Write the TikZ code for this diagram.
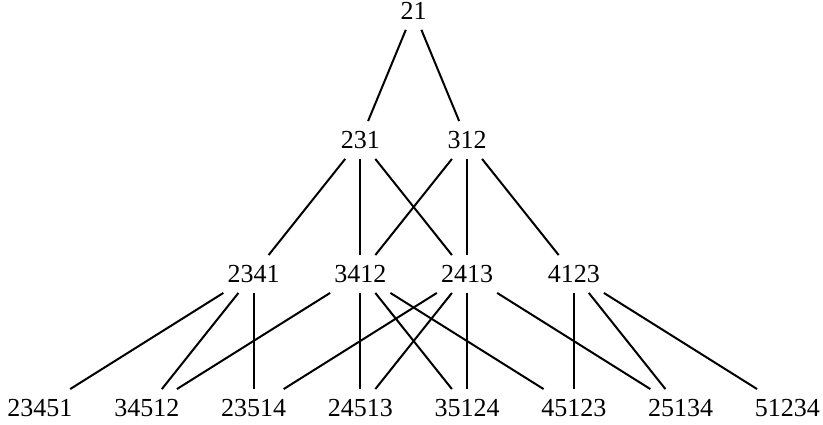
\documentclass[tikz,border=0pt]{standalone}
\usepackage{fontspec}
\setmainfont{Liberation Serif}
\begin{document}
\begin{tikzpicture}[x=1pt,y=-1pt,
  perm/.style={inner sep=10pt,font=\fontsize{26}{30}\selectfont},
  edge/.style={line width=2pt}]
\useasboundingbox (0,0) rectangle (823,425);
\node[perm] (n21) at (413.6,11) {21};
\node[perm] (n231) at (360.25,140) {231};
\node[perm] (n312) at (467,140) {312};
\node[perm] (n2341) at (253.5,274) {2341};
\node[perm] (n3412) at (360.25,274) {3412};
\node[perm] (n2413) at (467,274) {2413};
\node[perm] (n4123) at (573.75,274) {4123};
\node[perm] (a) at (40,408) {23451};
\node[perm] (b) at (146.75,408) {34512};
\node[perm] (c) at (253.5,408) {23514};
\node[perm] (d) at (360.25,408) {24513};
\node[perm] (e) at (467,408) {35124};
\node[perm] (f) at (573.75,408) {45123};
\node[perm] (g) at (680.5,408) {25134};
\node[perm] (h) at (787.25,408) {51234};
\draw[edge] (n21) -- (n231);
\draw[edge] (n21) -- (n312);
\draw[edge] (n231) -- (n2341);
\draw[edge] (n231) -- (n3412);
\draw[edge] (n231) -- (n2413);
\draw[edge] (n312) -- (n3412);
\draw[edge] (n312) -- (n2413);
\draw[edge] (n312) -- (n4123);
\draw[edge] (n2341) -- (a);
\draw[edge] (n2341) -- (b);
\draw[edge] (n2341) -- (c);
\draw[edge] (n3412) -- (b);
\draw[edge] (n3412) -- (d);
\draw[edge] (n3412) -- (e);
\draw[edge] (n3412) -- (f);
\draw[edge] (n2413) -- (c);
\draw[edge] (n2413) -- (d);
\draw[edge] (n2413) -- (e);
\draw[edge] (n2413) -- (g);
\draw[edge] (n4123) -- (f);
\draw[edge] (n4123) -- (g);
\draw[edge] (n4123) -- (h);
\end{tikzpicture}
\end{document}
